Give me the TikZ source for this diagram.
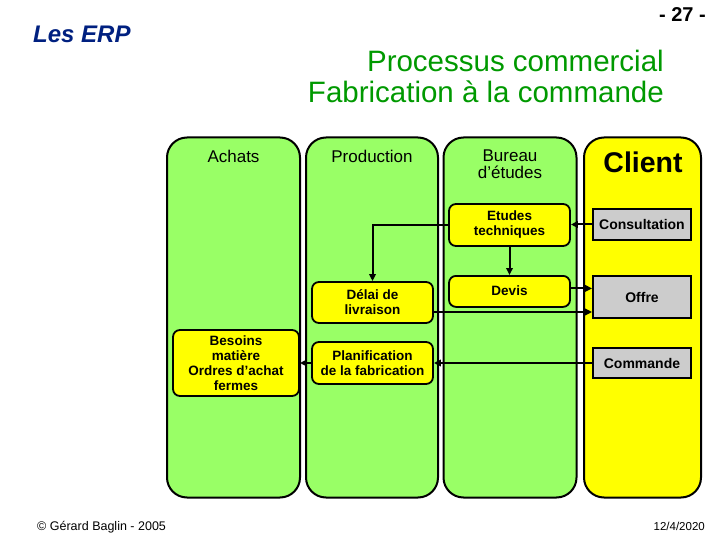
\documentclass[tikz,border=0pt]{standalone}
\usepackage{fontspec}
\setmainfont{Liberation Sans}
\usetikzlibrary{arrows.meta,calc}
\definecolor{lanegreen}{RGB}{153,255,102}
\definecolor{laneyellow}{RGB}{255,255,0}
\definecolor{boxgray}{RGB}{204,204,204}
\definecolor{titlegreen}{RGB}{0,153,0}
\definecolor{erpblue}{RGB}{0,32,128}
\tikzset{
  lane/.style={draw=black,line width=2pt,rounded corners=20pt,minimum height=360pt,inner sep=0pt},
  greenlane/.style={lane,fill=lanegreen},
  yellowlane/.style={lane,fill=laneyellow},
  head/.style={font=\fontsize{17}{17}\selectfont,align=center,inner sep=0pt},
  ybox/.style={draw=black,line width=1.8pt,fill=laneyellow,rounded corners=7pt,
    font=\fontsize{13.5}{15}\selectfont\bfseries,align=center,inner sep=0pt},
  gbox/.style={draw=black,line width=1.8pt,fill=boxgray,
    font=\fontsize{14}{15}\selectfont\bfseries,align=center,inner sep=0pt,
    minimum width=98pt},
  arr/.style={line width=2pt,-{Triangle[length=7pt,width=6.5pt]}}
}
\begin{document}
\begin{tikzpicture}[x=1pt,y=-1pt]
\useasboundingbox (0,0) rectangle (720,540);
% titles
\node[anchor=base west,font=\fontsize{24}{26}\selectfont\bfseries\itshape,text=erpblue,inner sep=0pt] (erp) at (33,43) {Les ERP};
\node[anchor=base east,font=\fontsize{20}{22}\selectfont\bfseries,inner sep=0pt] (pg) at (706,22) {- 27 -};
\node[anchor=base east,font=\fontsize{29.5}{32}\selectfont,text=titlegreen,align=right,inner sep=0pt] (t1) at (664,72) {Processus commercial};
\node[anchor=base east,font=\fontsize{29.5}{32}\selectfont,text=titlegreen,align=right,inner sep=0pt] (t2) at (664,103) {Fabrication à la commande};
% lanes
\node[greenlane,minimum width=133pt] (lA) at (233.5,317.5) {};
\node[greenlane,minimum width=132pt] (lP) at (372,317.5) {};
\node[greenlane,minimum width=133pt] (lB) at (510,317.5) {};
\node[yellowlane,minimum width=117pt] (lC) at (642.5,317.5) {};
% headers
\node[head] (hA) at (233.5,156) {Achats};
\node[head] (hP) at (372,156) {Production};
\node[head] (hB) at (510,164.5) {Bureau\\d’études};
\node[font=\fontsize{28.5}{30}\selectfont\bfseries,inner sep=0pt] (hC) at (643,162) {Client};
% boxes
\node[ybox,minimum width=121pt,minimum height=42pt] (etu) at (509.5,225) {Etudes\\techniques};
\node[ybox,minimum width=121pt,minimum height=31pt,anchor=north] (dev) at (509.5,275) {};
\node[font=\fontsize{13.5}{15}\selectfont\bfseries,inner sep=0pt] (devt) at (509.5,291) {Devis};
\node[ybox,minimum width=121pt,minimum height=41pt] (del) at (372.5,302.5) {Délai de\\livraison};
\node[ybox,minimum width=121pt,minimum height=42pt] (pla) at (372.5,363) {Planification\\de la fabrication};
\node[ybox,minimum width=126pt,minimum height=66pt] (bes) at (236,363) {Besoins\\matière\\Ordres d’achat\\fermes};
\node[gbox,minimum height=31pt] (con) at (642,224.5) {Consultation};
\node[gbox,minimum height=42pt] (off) at (642,297) {Offre};
\node[gbox,minimum height=30pt] (com) at (642,363) {Commande};
% connectors
\draw[arr] (con.west) -- (con.west -| etu.east);
\draw[arr] (etu.west) -| (del.north);
\draw[arr] (etu.south) -- (dev.north);
\draw[arr] ($(dev.east)+(0,-3)$) -- ($(dev.east -| off.west)+(0,-3)$);
\draw[arr] ($(del.east)+(0,9.5)$) -- ($(del.east -| off.west)+(0,9.5)$);
\draw[arr] (com.west) -- (com.west -| pla.east);
\draw[arr] (pla.west) -- (pla.west -| bes.east);
% footer
\node[anchor=base west,font=\fontsize{12.5}{13}\selectfont,inner sep=0pt] (f1) at (37,530) {© Gérard Baglin - 2005};
\node[anchor=base east,font=\fontsize{11.5}{13}\selectfont,inner sep=0pt] (f2) at (705,530) {12/4/2020};
\end{tikzpicture}
\end{document}
